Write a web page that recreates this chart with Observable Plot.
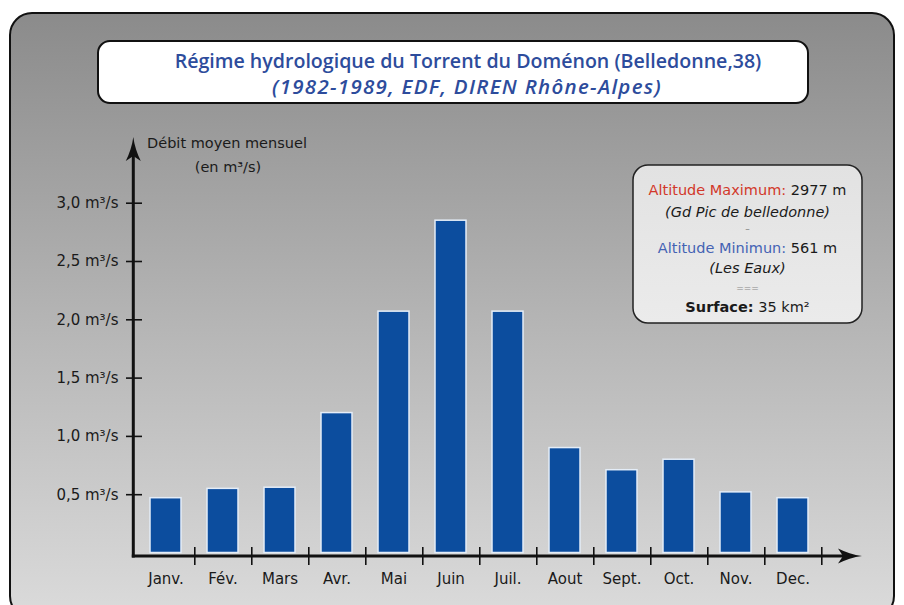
<!DOCTYPE html>
<html><head><meta charset="utf-8">
<script src="https://cdn.jsdelivr.net/npm/d3@7"></script>
<script src="https://cdn.jsdelivr.net/npm/@observablehq/plot@0.6"></script>
<style>html,body{margin:0;padding:0;background:#fff;} svg{display:block}</style>
</head><body><div id="chart"></div>
<script>
// ---- data ----
const months = ["Janv.","Fév.","Mars","Avr.","Mai","Juin","Juil.","Aout","Sept.","Oct.","Nov.","Dec."];
const debit  = [0.47, 0.55, 0.56, 1.20, 2.07, 2.85, 2.07, 0.90, 0.71, 0.80, 0.52, 0.47];
const yTicks = [0.5, 1.0, 1.5, 2.0, 2.5, 3.0];
const titleLines = ["Régime hydrologique du Torrent du Doménon (Belledonne,38)", "(1982-1989, EDF, DIREN Rhône-Alpes)"];
const yTitleLines = ["Débit moyen mensuel", "(en m³/s)"];
const altMax = ["Altitude Maximum:", " 2977 m", "(Gd Pic de belledonne)"];
const altMin = ["Altitude Minimun:", " 561 m", "(Les Eaux)"];
const surface = ["Surface:", " 35 km²"];

const data = months.map((m, i) => ({month: m, debit: debit[i]}));

const W = 904, H = 605, mL = 134, mR = 79, mB = 52.5, mT = 144.4;
const step = (W - mL - mR) / months.length;
const FONT = "DejaVu Sans";

const chart = Plot.plot({
  width: W, height: H,
  marginLeft: mL, marginRight: mR, marginTop: mT, marginBottom: mB,
  style: {background: "none", fontFamily: FONT, fontSize: "15px", color: "#1a1a1a", overflow: "visible"},
  x: {domain: months, paddingInner: 0.45, paddingOuter: 0.225, axis: null},
  y: {domain: [0, 3.5], axis: null},
  marks: [
    Plot.barY(data, {x: "month", y: "debit", fill: "#0c4d9e", stroke: "#e4edf8", strokeWidth: 1.5}),
    Plot.axisY(yTicks, {label: null, tickSize: 16, dx: 8, tickPadding: 8, strokeWidth: 1.6, stroke: "#111", fill: "#1a1a1a",
      tickFormat: d => d.toFixed(1).replace(".", ",") + " m³/s", fontSize: 15}),
    Plot.axisX({label: null, tickSize: 0, tickPadding: 20, fontSize: 15, fill: "#1a1a1a"}),
    Plot.ruleX(months, {x: d => d, dx: step / 2, y1: -0.107, y2: 0.047, stroke: "#111", strokeWidth: 1.6})
  ]
});

const svg = d3.select(chart);
const y = chart.scale("y");
const y0 = y.apply(0);

// decorations behind
const bg = svg.insert("g", ":first-child");
const defs = svg.insert("defs", ":first-child");
const g1 = defs.append("linearGradient").attr("id", "bgGrad").attr("x1", 0).attr("y1", 0).attr("x2", 0).attr("y2", 1);
g1.append("stop").attr("offset", "0%").attr("stop-color", "#8b8b8b");
g1.append("stop").attr("offset", "55%").attr("stop-color", "#b8b8b8");
g1.append("stop").attr("offset", "100%").attr("stop-color", "#dbdbdb");
const g2 = defs.append("linearGradient").attr("id", "boxGrad").attr("x1", 0).attr("y1", 0).attr("x2", 0).attr("y2", 1);
g2.append("stop").attr("offset", "0%").attr("stop-color", "#e2e2e2");
g2.append("stop").attr("offset", "100%").attr("stop-color", "#ebebeb");

bg.append("rect").attr("x", 10).attr("y", 13).attr("width", 884).attr("height", 605).attr("rx", 22)
  .attr("fill", "url(#bgGrad)").attr("stroke", "#111").attr("stroke-width", 2);

// title box
bg.append("rect").attr("x", 98).attr("y", 41).attr("width", 710).attr("height", 62).attr("rx", 12)
  .attr("fill", "#fff").attr("stroke", "#111").attr("stroke-width", 2);
const tg = svg.append("g").attr("text-anchor", "middle").attr("fill", "#2d4c9c").attr("font-family", "Open Sans").attr("font-weight", 600).attr("font-size", 19.6);
tg.append("text").attr("x", 468).attr("y", 68).text(titleLines[0]);
tg.append("text").attr("x", 467).attr("y", 94).attr("font-style", "italic").attr("font-size", 20.5).attr("letter-spacing", 1.3).text(titleLines[1]);

// axis lines + arrows
const ax = svg.append("g").attr("fill", "#111").attr("stroke", "#111");
const xAxisY = y0 + 3.5, yAxisX = mL - 0.7;
ax.append("line").attr("x1", yAxisX).attr("x2", yAxisX).attr("y1", xAxisY + 1.5).attr("y2", 152).attr("stroke-width", 3);
ax.append("path").attr("stroke", "none").attr("d",
  `M${yAxisX},137 C${yAxisX+1},145 ${yAxisX+4},154 ${yAxisX+7.5},161 L${yAxisX},156 L${yAxisX-7.5},161 C${yAxisX-4},154 ${yAxisX-1},145 ${yAxisX},137 Z`);
ax.append("line").attr("x1", yAxisX - 1.5).attr("x2", 848).attr("y1", xAxisY).attr("y2", xAxisY).attr("stroke-width", 3);
ax.append("path").attr("stroke", "none").attr("d",
  `M862,${xAxisY} C854,${xAxisY+1} 845,${xAxisY+4} 838,${xAxisY+7.5} L843,${xAxisY} L838,${xAxisY-7.5} C845,${xAxisY-4} 854,${xAxisY-1} 862,${xAxisY} Z`);

// y axis title
const yt = svg.append("g").attr("text-anchor", "middle").attr("font-family", FONT).attr("font-size", 14.5).attr("fill", "#1a1a1a");
yt.append("text").attr("x", 227).attr("y", 148).text(yTitleLines[0]);
yt.append("text").attr("x", 228).attr("y", 172).text(yTitleLines[1]);

// info box
svg.append("rect").attr("x", 633).attr("y", 165).attr("width", 229).attr("height", 158).attr("rx", 15)
  .attr("fill", "url(#boxGrad)").attr("stroke", "#222").attr("stroke-width", 1.5);
const ib = svg.append("g").attr("text-anchor", "middle").attr("font-family", FONT).attr("font-size", 14.5).attr("fill", "#1a1a1a");
const cx = 747.5;
let t = ib.append("text").attr("x", cx).attr("y", 195);
t.append("tspan").attr("fill", "#d2382a").text(altMax[0]);
t.append("tspan").text(altMax[1]);
ib.append("text").attr("x", cx).attr("y", 217).attr("font-style", "italic").text(altMax[2]);
ib.append("text").attr("x", cx).attr("y", 232).attr("font-size", 9).attr("fill", "#777").text("–");
t = ib.append("text").attr("x", cx).attr("y", 253);
t.append("tspan").attr("fill", "#4463b4").text(altMin[0]);
t.append("tspan").text(altMin[1]);
ib.append("text").attr("x", cx).attr("y", 273).attr("font-style", "italic").text(altMin[2]);
ib.append("text").attr("x", cx).attr("y", 291).attr("font-size", 9).attr("fill", "#888").text("===");
t = ib.append("text").attr("x", cx).attr("y", 312);
t.append("tspan").attr("font-weight", 700).text(surface[0]);
t.append("tspan").text(surface[1]);

document.getElementById("chart").appendChild(chart);
</script>
</body></html>
